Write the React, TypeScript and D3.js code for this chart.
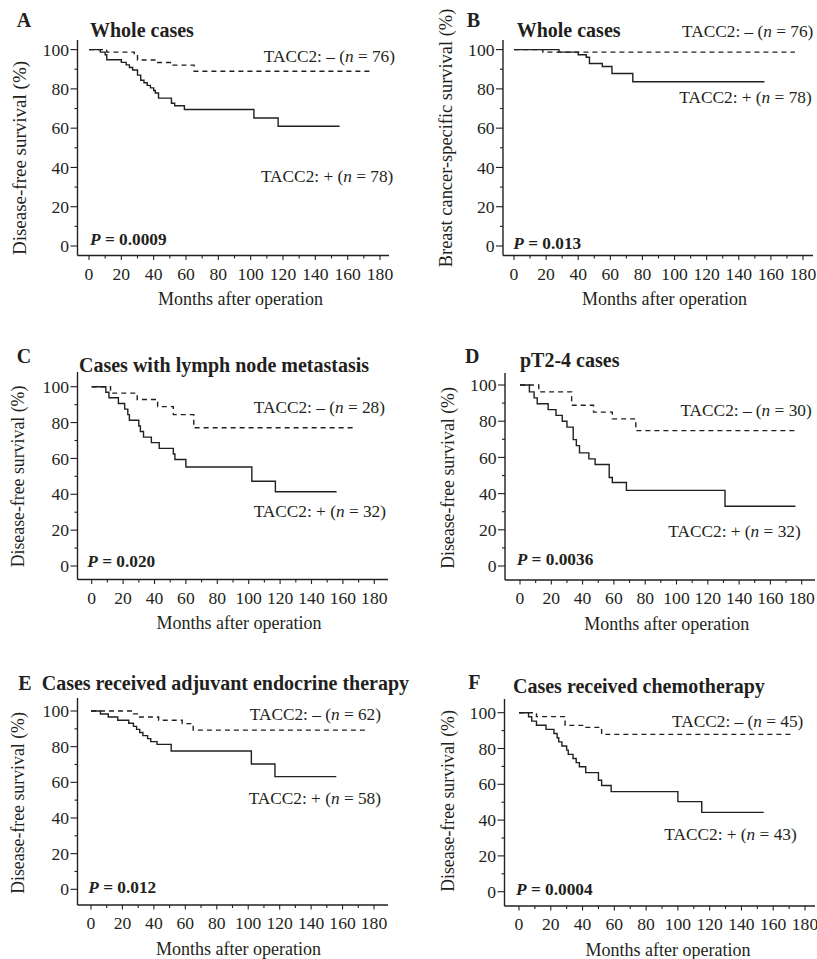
import React from 'react';
import * as d3 from 'd3';

// axis ticks
const monthTicks = [0, 20, 40, 60, 80, 100, 120, 140, 160, 180];
const survTicks = [0, 20, 40, 60, 80, 100];
const monthMinor = d3.range(0, 181, 10);
const survMinor = d3.range(0, 101, 10);

// A: whole cases, disease-free
const aNegMonths = [0, 11, 28, 30, 42, 52, 65, 174];
const aNegSurv = [100, 98.7, 97.4, 94.7, 93.4, 92.1, 89.0, 89.0];
const aPosMonths = [0, 7, 10, 11, 20, 23, 25, 27, 30, 32, 34, 36, 38, 40, 41, 43, 51, 53, 59, 102, 117, 155];
const aPosSurv = [100, 98.7, 97.4, 94.8, 93.5, 92.2, 90.9, 89.6, 87.0, 84.4, 83.1, 81.8, 80.5, 79.2, 77.9, 75.3, 72.7, 71.4, 69.5, 65.2, 61.0, 61.0];

// B: whole cases, breast cancer-specific
const bNegMonths = [0, 18, 175];
const bNegSurv = [100, 98.7, 98.7];
const bPosMonths = [0, 28, 40, 45, 47, 55, 61, 74, 156];
const bPosSurv = [100, 98.7, 97.4, 96.1, 92.9, 91.4, 87.8, 83.6, 83.6];

// C: lymph node metastasis
const cNegMonths = [0, 12, 29, 42, 52, 65, 167];
const cNegSurv = [100, 96.4, 92.9, 88.9, 84.4, 77.1, 77.1];
const cPosMonths = [0, 9, 11, 17, 21, 23, 24, 30, 31, 33, 38, 43, 52, 53, 60, 102, 117, 156];
const cPosSurv = [100, 96.9, 93.8, 90.6, 87.5, 84.4, 81.3, 78.1, 75.0, 71.9, 68.8, 65.6, 62.5, 59.4, 55.2, 47.3, 41.4, 41.4];

// D: pT2-4
const dNegMonths = [0, 12, 33, 47, 59, 74, 176];
const dNegSurv = [100, 96.2, 88.8, 85.0, 81.3, 74.8, 74.8];
const dPosMonths = [0, 6, 9, 11, 18, 23, 27, 30, 34, 36, 38, 44, 48, 57, 59, 68, 131, 176];
const dPosSurv = [100, 96.2, 92.9, 89.6, 86.4, 83.2, 80.0, 76.7, 69.8, 66.5, 62.5, 59.2, 56.1, 48.9, 46.1, 41.8, 33.0, 33.0];

// E: adjuvant endocrine therapy
const eNegMonths = [0, 27, 30, 43, 58, 65, 175];
const eNegSurv = [100, 98.4, 96.6, 94.8, 92.9, 89.3, 89.3];
const ePosMonths = [0, 6, 11, 17, 24, 27, 29, 31, 33, 36, 38, 42, 51, 102, 117, 156];
const ePosSurv = [100, 98.3, 96.6, 94.8, 93.1, 91.4, 89.7, 87.9, 86.2, 84.5, 82.8, 81.3, 77.6, 70.3, 63.2, 63.2];

// F: chemotherapy
const fNegMonths = [0, 11, 29, 41, 52, 173];
const fNegSurv = [100, 97.8, 92.9, 91.8, 87.9, 87.9];
const fPosMonths = [0, 6, 8, 11, 17, 22, 24, 25, 27, 30, 31, 34, 36, 38, 42, 50, 52, 58, 100, 115, 154];
const fPosSurv = [100, 97.7, 95.3, 93.0, 90.7, 88.4, 86.0, 83.7, 81.4, 79.1, 76.7, 74.4, 72.1, 69.8, 66.5, 62.3, 59.3, 55.9, 50.3, 44.3, 44.3];

const ink = '#231f20';
const font = '"Liberation Serif", "Times New Roman", serif';

const panels = [
  {
    letter: 'A', title: 'Whole cases', yLabel: 'Disease-free survival (%)', p: '0.0009', negN: 76, posN: 78,
    negM: aNegMonths, negS: aNegSurv, posM: aPosMonths, posS: aPosSurv,
    axisX: 77.5, axisTop: 40, axisY: 255.5, axisRight: 389, x0: 89, x180: 380, y0: 246, y100: 49.6,
    letterPos: [16.7, 26.7], titlePos: [90, 37.3], yLab: [19, 158, 19],
    negPos: [395, 61.7], posPos: [393.3, 182], pPos: [90, 244.5],
  },
  {
    letter: 'B', title: 'Whole cases', yLabel: 'Breast cancer-specific survival (%)', p: '0.013', negN: 76, posN: 78,
    negM: bNegMonths, negS: bNegSurv, posM: bPosMonths, posS: bPosSurv,
    axisX: 503, axisTop: 40, axisY: 255.5, axisRight: 813, x0: 514, x180: 803, y0: 246, y100: 49.6,
    letterPos: [466.7, 26.7], titlePos: [516.7, 36.7], yLab: [446, 138, 18.4],
    negPos: [813.3, 37.3], posPos: [811.7, 103.3], pPos: [513.3, 249],
  },
  {
    letter: 'C', title: 'Cases with lymph node metastasis', yLabel: 'Disease-free survival (%)', p: '0.020', negN: 28, posN: 32,
    negM: cNegMonths, negS: cNegSurv, posM: cPosMonths, posS: cPosSurv,
    axisX: 77.5, axisTop: 372, axisY: 579.5, axisRight: 388, x0: 91.7, x180: 374.3, y0: 566, y100: 386.7,
    letterPos: [16.7, 363], titlePos: [79, 372], yLab: [18, 476.5, 17.8],
    negPos: [385, 413.3], posPos: [386, 517.3], pPos: [87.3, 566.7],
  },
  {
    letter: 'D', title: 'pT2-4 cases', yLabel: 'Disease-free survival (%)', p: '0.0036', negN: 30, posN: 32,
    negM: dNegMonths, negS: dNegSurv, posM: dPosMonths, posS: dPosSurv,
    axisX: 505, axisTop: 373, axisY: 580, axisRight: 815, x0: 520, x180: 801.7, y0: 566, y100: 385,
    letterPos: [465, 363], titlePos: [520, 366.7], yLab: [448, 478, 17.8],
    negPos: [811.7, 416], posPos: [800.7, 536.7], pPos: [516.7, 565],
  },
  {
    letter: 'E', title: 'Cases received adjuvant endocrine therapy', yLabel: 'Disease-free survival (%)', p: '0.012', negN: 62, posN: 58,
    negM: eNegMonths, negS: eNegSurv, posM: ePosMonths, posS: ePosSurv,
    axisX: 77.5, axisTop: 698, axisY: 905, axisRight: 388, x0: 91, x180: 374, y0: 889.3, y100: 711,
    letterPos: [18.3, 690], titlePos: [41.7, 690], yLab: [18, 803, 17.8],
    negPos: [381, 720], posPos: [381, 804], pPos: [88.3, 893.3],
  },
  {
    letter: 'F', title: 'Cases received chemotherapy', yLabel: 'Disease-free survival (%)', p: '0.0004', negN: 45, posN: 43,
    negM: fNegMonths, negS: fNegSurv, posM: fPosMonths, posS: fPosSurv,
    axisX: 504.5, axisTop: 699, axisY: 906, axisRight: 815, x0: 519, x180: 805, y0: 891.7, y100: 712.7,
    letterPos: [468.3, 689.3], titlePos: [513, 692.7], yLab: [448, 801, 17.8],
    negPos: [803.3, 727.3], posPos: [796.7, 840], pPos: [516, 895],
  },
];

type PanelDef = typeof panels[number];

function KMPanel({ d }: { d: PanelDef }) {
  const x = d3.scaleLinear().domain([0, 180]).range([d.x0, d.x180]);
  const y = d3.scaleLinear().domain([0, 100]).range([d.y0, d.y100]);
  const line = d3.line<[number, number]>()
    .x(p => x(p[0]))
    .y(p => y(p[1]))
    .curve(d3.curveStepAfter);
  const neg = d3.zip(d.negM, d.negS) as [number, number][];
  const pos = d3.zip(d.posM, d.posS) as [number, number][];

  return (
    <g fontFamily={font} fill={ink}>
      {/* axes */}
      <line x1={d.axisX} x2={d.axisX} y1={d.axisTop} y2={d.axisY} stroke={ink} strokeWidth={1.4} />
      <line x1={d.axisX} x2={d.axisRight} y1={d.axisY} y2={d.axisY} stroke={ink} strokeWidth={1.4} />
      {survMinor.map(v => (
        <line key={'ym' + v} x1={d.axisX} x2={d.axisX - (v % 20 === 0 ? 7 : 3)} y1={y(v)} y2={y(v)} stroke={ink} strokeWidth={1.1} />
      ))}
      {monthMinor.map(v => (
        <line key={'xm' + v} x1={x(v)} x2={x(v)} y1={d.axisY} y2={d.axisY + (v % 20 === 0 ? 4.5 : 3)} stroke={ink} strokeWidth={1.1} />
      ))}
      {survTicks.map(v => (
        <text key={'yt' + v} x={d.axisX - 8.5} y={y(v)} dy="0.35em" textAnchor="end" fontSize={17.6}>{v}</text>
      ))}
      {monthTicks.map(v => (
        <text key={'xt' + v} x={x(v)} y={d.axisY + 24} textAnchor="middle" fontSize={17.6}>{v}</text>
      ))}
      <text x={(d.x0 + d.x180) / 2 + 6} y={d.axisY + 49.5} textAnchor="middle" fontSize={18}>Months after operation</text>
      <text transform={`translate(${d.yLab[0]},${d.yLab[1]}) rotate(-90)`} dy="0.35em" textAnchor="middle" fontSize={d.yLab[2]}>{d.yLabel}</text>

      {/* curves */}
      <path d={line(neg) || ''} fill="none" stroke={ink} strokeWidth={1.4} strokeDasharray="5,4" />
      <path d={line(pos) || ''} fill="none" stroke={ink} strokeWidth={1.4} />

      {/* labels */}
      <text x={d.letterPos[0]} y={d.letterPos[1]} fontSize={20} fontWeight="bold">{d.letter}</text>
      <text x={d.titlePos[0]} y={d.titlePos[1]} fontSize={20} fontWeight="bold">{d.title}</text>
      <text x={d.negPos[0]} y={d.negPos[1]} textAnchor="end" fontSize={17.3}>
        TACC2: – (<tspan fontStyle="italic">n</tspan> = {d.negN})
      </text>
      <text x={d.posPos[0]} y={d.posPos[1]} textAnchor="end" fontSize={17.3}>
        TACC2: + (<tspan fontStyle="italic">n</tspan> = {d.posN})
      </text>
      <text x={d.pPos[0]} y={d.pPos[1]} fontSize={17.3} fontWeight="bold">
        <tspan fontStyle="italic">P</tspan> = {d.p}
      </text>
    </g>
  );
}

export default function App() {
  return (
    <svg width={817} height={959} style={{ position: 'absolute', left: 0, top: 0, background: '#fff' }}>
      <rect width={817} height={959} fill="#fff" />
      {panels.map(p => <KMPanel key={p.letter} d={p} />)}
    </svg>
  );
}
